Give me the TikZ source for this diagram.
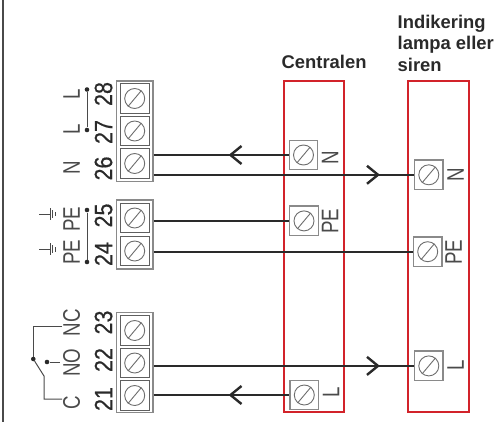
\documentclass[tikz,border=0pt]{standalone}
\usepackage{fontspec}
\setmainfont{Liberation Sans}
\newfontfamily\numfont[FakeStretch=0.86,FakeBold=0.6]{Liberation Sans}
\newfontfamily\labfont[FakeStretch=0.78]{Liberation Sans}
\definecolor{wirec}{HTML}{2A2A2A}
\definecolor{framec}{HTML}{8A8A8A}
\definecolor{redbox}{HTML}{D2232A}
\tikzset{
  x=1pt,y=-1pt,
  wire/.style={draw=wirec,line width=1.8pt},
  chev/.style={draw=wirec,line width=2.4pt,miter limit=10},
  thinl/.style={draw=wirec!85!white,line width=1pt},
  block/.style={draw=framec,line width=1.4pt,fill=white,rectangle,inner sep=0pt,minimum width=36.5pt},
  cell/.style={draw=wirec!75!white,line width=1.4pt,fill=white,rectangle,inner sep=0pt,minimum width=29pt,minimum height=29.5pt},
  term/.style={draw=framec,line width=1.4pt,fill=white,rectangle,inner sep=0pt,minimum width=28.5pt,minimum height=29.5pt},
  screw/.style={draw=framec!80!black,line width=.9pt,circle,inner sep=0pt,minimum size=20pt},
  redframe/.style={draw=redbox,line width=1.9pt,rectangle,inner sep=0pt},
  num/.style={rotate=90,inner sep=0pt,font=\numfont\fontsize{25}{25}\selectfont,text=wirec},
  lab/.style={rotate=90,inner sep=0pt,font=\labfont\fontsize{24}{24}\selectfont,text=wirec!85!white},
  title/.style={inner sep=0pt,anchor=base west,font=\bfseries\fontsize{18.4}{22}\selectfont,text=wirec},
  dotn/.style={circle,fill=wirec,inner sep=0pt,minimum size=4.6pt},
}
\newcommand{\slashscrew}[1]{%
  \node[screw] (s#1) at (#1.center) {};
  \draw[draw=framec!80!black,line width=.9pt] (s#1.230) -- (s#1.50);}
\begin{document}
\begin{tikzpicture}
\useasboundingbox (0,0) rectangle (494,422);
% left border
\coordinate (bt) at (3,0); \coordinate (bb) at (3,422);
\draw[draw=wirec!85!white,line width=2pt] (bt) -- (bb);
% red boxes
\node[redframe,minimum width=60.5pt,minimum height=331pt] (central) at (314,246.2) {};
\node[redframe,minimum width=61pt,minimum height=331pt] (indik) at (438.2,246.2) {};
% terminal blocks
\node[block,minimum height=100.5pt] (b1) at (134.7,131.3) {};
\node[block,minimum height=69pt] (b2) at (134.7,234.5) {};
\node[block,minimum height=100pt] (b3) at (134.7,362.7) {};
\foreach \n/\y in {c28/98.5,c27/131,c26/163.5,c25/218,c24/251,c23/330.5,c22/363,c21/395.5}{
  \node[cell] (\n) at (134.7,\y) {};
  \slashscrew{\n}
}
% device terminals
\node[term] (cN) at (303.5,155) {};   \slashscrew{cN}
\node[term] (cPE) at (304,220.9) {};  \slashscrew{cPE}
\node[term] (cL) at (304.3,395) {};   \slashscrew{cL}
\node[term] (iN) at (428.8,174.8) {}; \slashscrew{iN}
\node[term] (iPE) at (427.7,251.7) {};\slashscrew{iPE}
\node[term] (iL) at (428.8,365.9) {}; \slashscrew{iL}
% wires
\draw[wire,shorten <=3.8pt] (c26.east |- cN.west) -- (cN.west);
\draw[wire,shorten <=3.8pt] (c26.east |- iN.west) -- (iN.west);
\draw[wire,shorten <=3.8pt] (c25.east |- cPE.west) -- (cPE.west);
\draw[wire,shorten <=3.8pt] (c24.east |- iPE.west) -- (iPE.west);
\draw[wire,shorten <=3.8pt] (c22.east |- iL.west) -- (iL.west);
\draw[wire,shorten <=3.8pt] (c21.east |- cL.west) -- (cL.west);
% arrow chevrons
\coordinate (a1) at (230.5,155);
\coordinate (a2) at (378,174.8);
\coordinate (a3) at (378,365.9);
\coordinate (a4) at (230.5,395);
\draw[chev] (a1) ++(11,-9) -- (a1) -- ++(11,9);
\draw[chev] (a2) ++(-11,-9) -- (a2) -- ++(-11,9);
\draw[chev] (a3) ++(-11,-9) -- (a3) -- ++(-11,9);
\draw[chev] (a4) ++(11,-9) -- (a4) -- ++(11,9);
% device labels
\node[lab] (lcN) at (330,157.5) {N};
\node[lab] (lcPE) at (330,221) {PE};
\node[lab] (lcL) at (331,392) {L};
\node[lab] (liN) at (455.5,175) {N};
\node[lab] (liPE) at (453.5,252) {PE};
\node[lab] (liL) at (455.5,365.5) {L};
% numbers
\foreach \t/\y in {28/94,27/132,26/168.5,25/215.5,24/254,23/322.5,22/360,21/399}{
  \node[num] (n\t) at (103.5,\y) {\t};
}
% left labels
\node[lab] (l28) at (71.5,94.5) {L};
\node[lab] (l27) at (71.5,129) {L};
\node[lab] (l26) at (71.5,167.5) {N};
\node[lab] (l25) at (71.5,219) {PE};
\node[lab] (l24) at (71.5,252) {PE};
\node[lab] (l23) at (71.5,322.5) {NC};
\node[lab] (l22) at (71.5,362.5) {NO};
\node[lab] (l21) at (71.5,402.5) {C};
% bridges
\node[dotn] (d28) at (87,89.5) {};
\node[dotn] (d27) at (87,130) {};
\draw[thinl] (d28) -- (d27);
\node[dotn] (d25) at (87,210) {};
\node[dotn] (d24) at (87,262) {};
\draw[thinl] (d25) -- (d24);
% ground symbols
\foreach \g/\y in {g1/214,g2/249.3}{
  \coordinate (\g a) at (39,\y);
  \coordinate (\g b) at (50,\y);
  \draw[thinl] (\g a) -- (\g b);
  \draw[thinl] (\g b) ++(0,-6) -- ++(0,12);
  \draw[thinl] (\g b) ++(2.7,-4) -- ++(0,8);
  \draw[thinl] (\g b) ++(5,-2.2) -- ++(0,4.4);
}
% relay contact
\node[dotn] (cd) at (33.3,359) {};
\node[dotn] (nod) at (47,362) {};
\coordinate (ncend) at (62,326);
\coordinate (noend) at (60,362);
\coordinate (cend) at (62,399);
\coordinate (arm) at (44,376);
\draw[thinl] (ncend) -| (cd);
\draw[thinl] (nod) -- (noend);
\draw[thinl] (cd) -- (arm) |- (cend);
% titles
\node[title] (tc) at (281.5,69) {Centralen};
\node[title] (t1) at (397.5,29) {Indikering};
\node[title] (t2) at (397.5,50) {lampa eller};
\node[title] (t3) at (397.5,72) {siren};
\end{tikzpicture}
\end{document}
